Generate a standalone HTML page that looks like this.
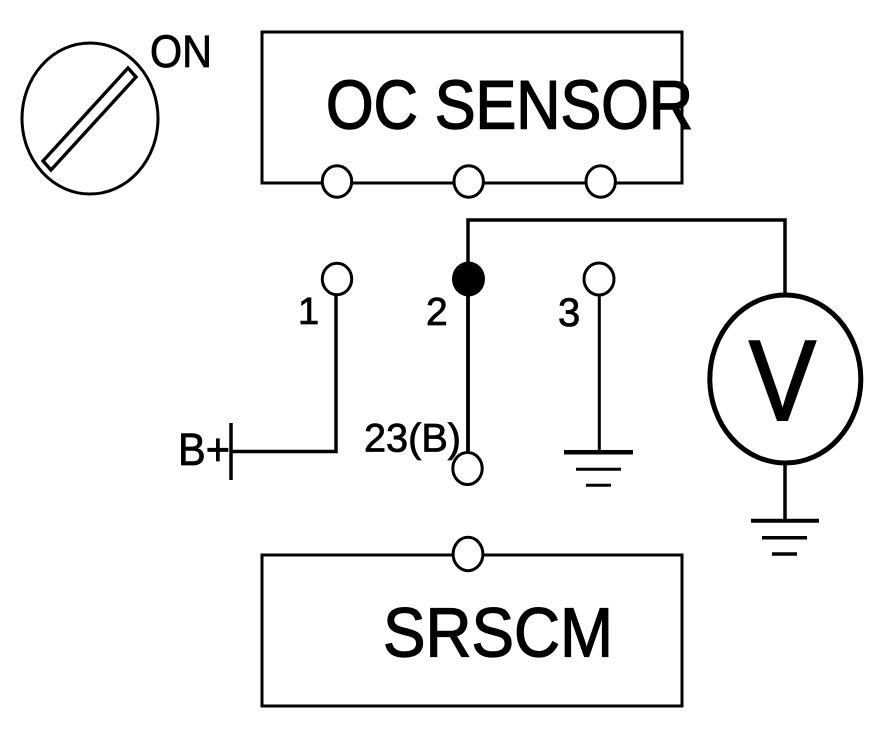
<!DOCTYPE html>
<html><head><meta charset="utf-8"><style>
html,body{margin:0;padding:0;background:#fff}
svg{display:block}
text{font-family:"Liberation Sans",sans-serif;fill:#000;stroke:#000}
</style></head><body>
<svg width="896" height="736" viewBox="0 0 896 736" xmlns="http://www.w3.org/2000/svg">
<g fill="none" stroke="#000" stroke-width="3">
<ellipse cx="90" cy="118.5" rx="68" ry="75.5"/>
<polygon points="128,68 136,77 51,170 43,161" stroke-width="3.4"/>
<rect x="262" y="32" width="420" height="151"/>
<rect x="262" y="555" width="420" height="151"/>
<path d="M468,276V220H785V296" stroke-width="3.5"/>
<path d="M468,276V452" stroke-width="3.8"/>
<path d="M336,294V451.5H231" stroke-width="3.5"/>
<path d="M231,423V480" stroke-width="3.5"/>
<path d="M599.3,294V451"/>
<path d="M564,452.3H633" stroke-width="4.5"/>
<path d="M576,469.3H621M586,485.3H611"/>
<path d="M785,462V520" stroke-width="3.5"/>
<path d="M751,520.7H819" stroke-width="4"/>
<path d="M762,537.7H807" stroke-width="3.5"/>
<path d="M772,554H797" stroke-width="3.5"/>
<ellipse cx="785.3" cy="379" rx="75.5" ry="84" stroke-width="5"/>
</g>
<g fill="#fff" stroke="#000" stroke-width="3">
<ellipse cx="337" cy="181.5" rx="14.7" ry="15.7"/>
<ellipse cx="468.7" cy="181.5" rx="14.7" ry="15.7"/>
<ellipse cx="600.7" cy="181.5" rx="14.7" ry="15.7"/>
<ellipse cx="337" cy="279" rx="14.7" ry="15.7"/>
<ellipse cx="599" cy="279" rx="15" ry="16"/>
<ellipse cx="467.5" cy="468.5" rx="14.7" ry="16"/>
<ellipse cx="468" cy="554" rx="14.9" ry="16.7"/>
</g>
<ellipse cx="468.5" cy="279" rx="16.5" ry="17.5" fill="#000"/>
<text x="150" y="67" font-size="45" textLength="62" lengthAdjust="spacingAndGlyphs" stroke-width="0.8">ON</text>
<text x="326" y="128.5" font-size="69" textLength="367" lengthAdjust="spacingAndGlyphs" stroke-width="1.5">OC SENSOR</text>
<text x="383" y="656.5" font-size="70" textLength="230" lengthAdjust="spacingAndGlyphs" stroke-width="1.3">SRSCM</text>
<text x="298" y="324" font-size="38" stroke-width="0.8">1</text>
<text x="426" y="325" font-size="39" stroke-width="0.8">2</text>
<text x="558" y="326" font-size="40" stroke-width="0.8">3</text>
<text x="178" y="465" font-size="45" textLength="52" lengthAdjust="spacingAndGlyphs" stroke-width="0.8">B+</text>
<text x="364" y="451.5" font-size="40" textLength="97" lengthAdjust="spacingAndGlyphs" stroke-width="0.8">23(B)</text>
<text x="749" y="420" font-size="114" textLength="67" lengthAdjust="spacingAndGlyphs" stroke-width="2">V</text>
</svg>
</body></html>
